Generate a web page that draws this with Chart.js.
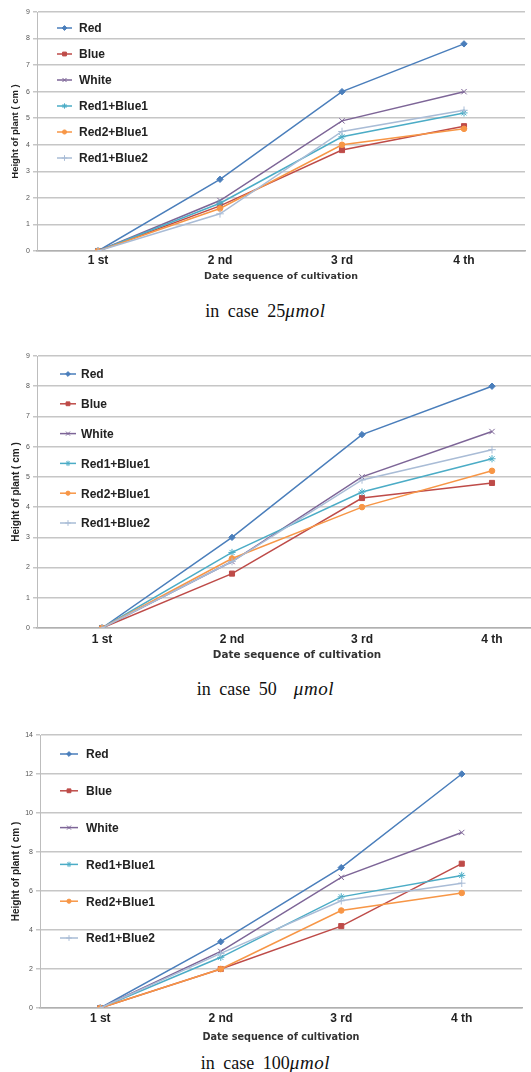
<!DOCTYPE html>
<html>
<head>
<meta charset="utf-8">
<script src="https://cdn.jsdelivr.net/npm/chart.js@4.4.1/dist/chart.umd.min.js"></script>
<style>
  html, body { margin: 0; padding: 0; background: #fff; overflow: hidden; width: 531px; height: 1072px; }
  .box { position: absolute; left: 0; }
  .cap { position: absolute; left: 0; width: 531px; text-align: center; font-family: "Liberation Serif", "DejaVu Serif", serif; font-size: 18px; color: #111; word-spacing: 4px; line-height: 20px; }
  .cap i { font-size: 19px; letter-spacing: 0.6px; }
</style>
</head>
<body>
<div class="box" style="top:0px"><canvas id="graph25" width="570" height="286"></canvas></div>
<div class="cap" style="top:301px">in case 25<i>μmol</i></div>
<div class="box" style="top:340px"><canvas id="graph50" width="570" height="326"></canvas></div>
<div class="cap" style="top:679px">in case 50&nbsp;&nbsp;<i>μmol</i></div>
<div class="box" style="top:720px"><canvas id="graph100" width="570" height="327"></canvas></div>
<div class="cap" style="top:1053px">in case 100<i>μmol</i></div>

<script>
// data
const labels = ['1 st', '2 nd', '3 rd', '4 th'];
const seriesNames = ['Red', 'Blue', 'White', 'Red1+Blue1', 'Red2+Blue1', 'Red1+Blue2'];

// 25 umol
const red25 = [0, 2.7, 6.0, 7.8];
const blue25 = [0, 1.7, 3.8, 4.7];
const white25 = [0, 1.9, 4.9, 6.0];
const r1b1_25 = [0, 1.8, 4.3, 5.2];
const r2b1_25 = [0, 1.6, 4.0, 4.6];
const r1b2_25 = [0, 1.4, 4.5, 5.3];

// 50 umol
const red50 = [0, 3.0, 6.4, 8.0];
const blue50 = [0, 1.8, 4.3, 4.8];
const white50 = [0, 2.2, 5.0, 6.5];
const r1b1_50 = [0, 2.5, 4.5, 5.6];
const r2b1_50 = [0, 2.3, 4.0, 5.2];
const r1b2_50 = [0, 2.2, 4.9, 5.9];

// 100 umol
const red100 = [0, 3.4, 7.2, 12.0];
const blue100 = [0, 2.0, 4.2, 7.4];
const white100 = [0, 2.9, 6.7, 9.0];
const r1b1_100 = [0, 2.6, 5.7, 6.8];
const r2b1_100 = [0, 2.0, 5.0, 5.9];
const r1b2_100 = [0, 2.8, 5.5, 6.4];

const colors = ['#4A7EBB', '#BE4B48', '#7D6597', '#4BACC6', '#F79646', '#A9BCD6'];
const markers = ['rectRot', 'rect', 'crossRot', 'star', 'circle', 'cross'];
const markerSize = [3.2, 3.6, 3.8, 3.6, 2.8, 3.8];

// legend drawn inside the plot, like the excel one
const insideLegend = {
  id: 'insideLegend',
  afterDraw(chart, args, opts) {
    const ctx = chart.ctx;
    ctx.save();
    chart.data.datasets.forEach(function(ds, i) {
      let y = opts.y0 + i * opts.dy;
      ctx.strokeStyle = ds.borderColor;
      ctx.fillStyle = ds.borderColor;
      ctx.lineWidth = 1.5;
      ctx.beginPath();
      ctx.moveTo(opts.x0, y);
      ctx.lineTo(opts.x1, y);
      ctx.stroke();
      ctx.lineWidth = 1;
      Chart.helpers.drawPoint(ctx, {
        pointStyle: ds.pointStyle, radius: ds.pointRadius * 0.75, rotation: 0, borderWidth: 1
      }, (opts.x0 + opts.x1) / 2, y);
      ctx.fillStyle = '#222';
      ctx.font = 'bold 12px "Liberation Sans", Arial, sans-serif';
      ctx.textBaseline = 'middle';
      ctx.textAlign = 'left';
      ctx.fillText(ds.label, opts.tx, y + 1);
    });
    ctx.restore();
  }
};

function makeDatasets(list) {
  return list.map(function(vals, i) {
    return {
      label: seriesNames[i],
      data: vals,
      borderColor: colors[i],
      backgroundColor: colors[i],
      borderWidth: 1.5,
      pointStyle: markers[i],
      pointRadius: markerSize[i],
      pointBorderWidth: 1,
      tension: 0,
      fill: false,
      order: 6 - i
    };
  });
}

function showGraph(id, list, lay) {
  let graphTarget = document.getElementById(id);
  return new Chart(graphTarget, {
    type: 'line',
    data: { labels: labels, datasets: makeDatasets(list) },
    plugins: [insideLegend],
    options: {
      responsive: false,
      animation: false,
      devicePixelRatio: 1,
      layout: { padding: { top: lay.top, right: lay.right, left: 0, bottom: 0 } },
      plugins: {
        legend: { display: false },
        tooltip: { enabled: false },
        insideLegend: lay.legend
      },
      scales: {
        x: {
          offset: true,
          grid: { display: false, drawTicks: false },
          border: { display: true, color: '#b0b0b0', width: 1.5 },
          ticks: {
            padding: lay.xpad,
            color: '#222',
            font: { family: '"Liberation Sans", Arial, sans-serif', size: 12, weight: 'bold' }
          },
          title: {
            display: true,
            text: 'Date sequence of cultivation',
            color: '#333',
            padding: { top: 0, bottom: 4 },
            font: { family: '"DejaVu Sans", sans-serif', size: lay.tsize, weight: 'bold', lineHeight: 1.2 }
          },
          afterFit: function(scale) { scale.height = lay.xh; }
        },
        y: {
          min: 0,
          max: lay.max,
          ticks: {
            stepSize: lay.step,
            padding: 3,
            color: '#555',
            font: { family: '"Liberation Sans", Arial, sans-serif', size: 7 }
          },
          grid: { color: '#c6c6c6', lineWidth: 1.5, tickLength: 4, tickColor: '#c6c6c6' },
          border: { display: true, color: '#bdbdbd', width: 1 },
          title: {
            display: true,
            text: 'Height of plant ( cm )',
            color: '#222',
            padding: { top: 10, bottom: 0 },
            font: { family: '"Liberation Sans", Arial, sans-serif', size: lay.ysize, weight: 'bold' }
          },
          afterFit: function(scale) { scale.width = lay.yw; }
        }
      }
    }
  });
}

showGraph('graph25', [red25, blue25, white25, r1b1_25, r2b1_25, r1b2_25], {
  top: 12, right: 45, max: 9, step: 1, yw: 37, xh: 35, xpad: 2, tsize: 9.5, ysize: 9.5,
  legend: { x0: 57, x1: 72, tx: 79, y0: 28, dy: 26 }
});

showGraph('graph50', [red50, blue50, white50, r1b1_50, r2b1_50, r1b2_50], {
  top: 16, right: 13, max: 9, step: 1, yw: 37, xh: 38, xpad: 4, tsize: 10.4, ysize: 10,
  legend: { x0: 60, x1: 76, tx: 81, y0: 34, dy: 29.8 }
});

showGraph('graph100', [red100, blue100, white100, r1b1_100, r2b1_100, r1b2_100], {
  top: 15, right: 48, max: 14, step: 2, yw: 40, xh: 39, xpad: 3, tsize: 9.7, ysize: 10,
  legend: { x0: 60, x1: 78, tx: 86, y0: 34, dy: 36.8 }
});
</script>
</body>
</html>
